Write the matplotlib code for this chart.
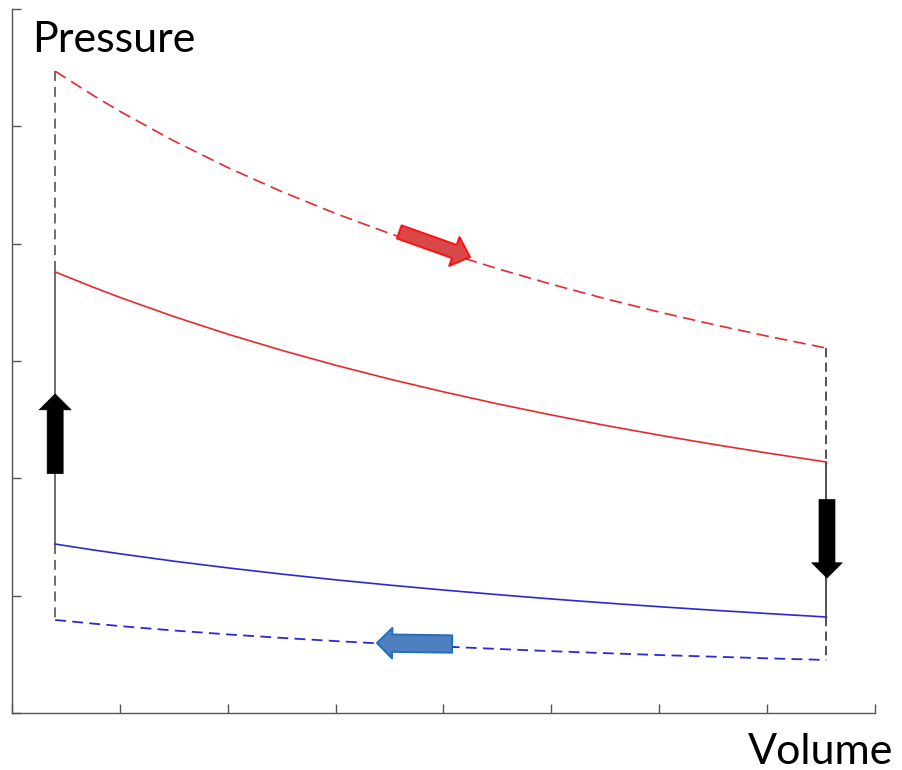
import matplotlib
matplotlib.use("Agg")
import matplotlib.pyplot as plt
from matplotlib.patches import FancyArrowPatch

# ---- data ----
volume = [0.4, 0.75, 1.0, 1.5, 2.0, 2.5, 3.0, 3.5, 4.0, 4.5, 5.0, 5.5, 6.0, 6.5, 7.0, 7.55]
hot_expansion = [5.470, 5.265, 5.128, 4.876, 4.649, 4.444, 4.257, 4.087,
                 3.931, 3.787, 3.654, 3.531, 3.417, 3.311, 3.212, 3.110]      # red dashed
hot_adiabat = [3.759, 3.630, 3.542, 3.379, 3.229, 3.091, 2.964, 2.846,
               2.737, 2.635, 2.540, 2.451, 2.368, 2.290, 2.216, 2.139]        # red solid
cold_adiabat = [1.440, 1.390, 1.357, 1.294, 1.237, 1.184, 1.135, 1.090,
                1.048, 1.009, 0.972, 0.938, 0.906, 0.876, 0.848, 0.818]       # blue solid
cold_compression = [0.793, 0.762, 0.741, 0.703, 0.670, 0.640, 0.613, 0.588,
                    0.566, 0.546, 0.527, 0.510, 0.494, 0.480, 0.466, 0.452]   # blue dashed

x_ticks = [0, 1, 2, 3, 4, 5, 6, 7, 8]
y_ticks = [0, 1, 2, 3, 4, 5, 6]

# arrow annotations (tail -> tip), data units
red_arrow = [(3.59, 4.10), (4.246, 3.886)]
blue_arrow = [(4.08, 0.588), (3.383, 0.597)]
up_arrow = [(0.4, 2.04), (0.4, 2.72)]
down_arrow = [(7.555, 1.82), (7.555, 1.15)]

W, H = 903, 770
fig = plt.figure(figsize=(W / 100, H / 100), dpi=100)
ax = fig.add_axes([12 / W, (770 - 713) / H, 863 / W, 704 / H])
ax.set_xlim(0, 8)
ax.set_ylim(0, 6)

red = "#e52a2f"
blue = "#2a2ad0"
dash = (6, 3.5)
red_dash = (7.5, 3.8)

v0, v1 = volume[0], volume[-1]
# vertical connectors
ax.plot([v0, v0], [hot_expansion[0], hot_adiabat[0]], color="#555555", lw=1.2, dashes=dash)
ax.plot([v0, v0], [hot_adiabat[0], cold_adiabat[0]], color="#555555", lw=1.2)
ax.plot([v0, v0], [cold_adiabat[0], cold_compression[0]], color="#555555", lw=1.2, dashes=dash)
ax.plot([v1, v1], [hot_expansion[-1], hot_adiabat[-1]], color="#222222", lw=1.1, dashes=dash)
ax.plot([v1, v1], [hot_adiabat[-1], cold_adiabat[-1]], color="#222222", lw=1.1)
ax.plot([v1, v1], [cold_adiabat[-1], cold_compression[-1]], color="#222222", lw=1.1, dashes=dash)

ax.plot(volume, hot_expansion, color=red, lw=1.2, dashes=red_dash)
ax.plot(volume, hot_adiabat, color=red, lw=1.2)
ax.plot(volume, cold_adiabat, color=blue, lw=1.2)
ax.plot(volume, cold_compression, color=blue, lw=1.3, dashes=dash)


def arrow(pts, fc, ec, tail, head, hlen, lw=1.2):
    p = FancyArrowPatch(pts[0], pts[1],
                        arrowstyle=f"simple,head_length={hlen},head_width={head},tail_width={tail}",
                        mutation_scale=1, shrinkA=0, shrinkB=0,
                        fc=fc, ec=ec, lw=lw, zorder=5)
    ax.add_patch(p)


arrow(red_arrow, "#d94848", "#ff1010", 10, 22, 12, lw=1.4)
arrow(blue_arrow, "#4f7fbf", "#1f70c1", 12.5, 22, 11, lw=1.4)
arrow(up_arrow, "black", "black", 11.5, 23, 11.5, lw=0.5)
arrow(down_arrow, "black", "black", 11.5, 22, 11, lw=0.5)

for s in ["top", "right"]:
    ax.spines[s].set_visible(False)
for s in ["left", "bottom"]:
    ax.spines[s].set_color("#555555")
    ax.spines[s].set_linewidth(1.0)
ax.set_xticks(x_ticks)
ax.set_yticks(y_ticks)
ax.set_xticklabels([])
ax.set_yticklabels([])
ax.tick_params(direction="in", length=6.5, width=1.0, color="#555555")

fig.text(32 / W, 1 - 52 / H, "Pressure", ha="left", va="baseline",
         fontsize=31, family="Lato")
fig.text(893 / W, 1 - 764 / H, "Volume", ha="right", va="baseline",
         fontsize=31, family="Lato")

fig.savefig("out.png", dpi=100)
